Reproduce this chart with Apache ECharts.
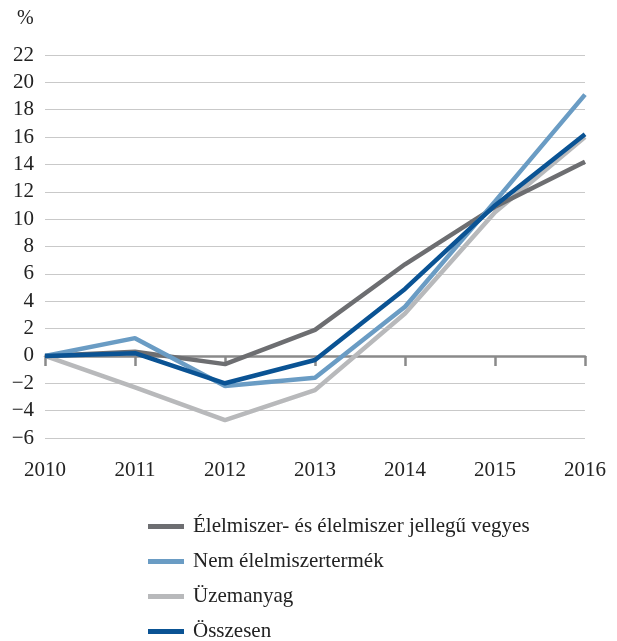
<!DOCTYPE html>
<html><head><meta charset="utf-8">
<script src="https://cdn.jsdelivr.net/npm/echarts@6/dist/echarts.min.js"></script>
<style>html,body{margin:0;padding:0;background:#fff}#c{width:617px;height:641px}</style>
</head><body><div id="c"></div>
<script>
const categories = ['2010','2011','2012','2013','2014','2015','2016'];
const seriesNames = ['Élelmiszer- és élelmiszer jellegű vegyes','Nem élelmiszertermék','Üzemanyag','Összesen'];
const elelmiszer = [0, 0.3, -0.6, 1.9, 6.7, 10.9, 14.2];
const nemElelmiszer = [0, 1.3, -2.2, -1.6, 3.6, 11.3, 19.1];
const uzemanyag = [0, -2.3, -4.7, -2.5, 3.1, 10.5, 16.0];
const osszesen = [0, 0.2, -2.0, -0.3, 4.9, 11.0, 16.2];
const colors = ['#6d6e71', '#6a9cc4', '#b8b9bb', '#0a5394'];
const font = 'Liberation Serif';
const chart = echarts.init(document.getElementById('c'));
const data = [elelmiszer, nemElelmiszer, uzemanyag, osszesen];
chart.setOption({
  animation: false,
  textStyle: {fontFamily: font},
  grid: {left: 45, right: 32, top: 55, bottom: 203},
  graphic: [{type: 'text', left: 17, top: 9, style: {text: '%', fontFamily: font, fontSize: 20, fill: '#222'}}],
  legend: {
    orient: 'vertical', left: 143, top: 511, height: 160, itemGap: 14,
    itemWidth: 36, itemHeight: 5, icon: 'rect',
    textStyle: {fontFamily: font, fontSize: 21, color: '#222', padding: [0,0,0,4]},
    data: seriesNames
  },
  xAxis: {
    type: 'category', data: categories, boundaryGap: false,
    axisLine: {onZero: true, lineStyle: {color: '#8a8a8a', width: 2.5}},
    axisTick: {show: true, length: 10, inside: false, lineStyle: {color: '#8a8a8a', width: 2.5}},
    axisLabel: {margin: 22, fontFamily: font, fontSize: 21, color: '#222'}
  },
  yAxis: {
    type: 'value', min: -6, max: 22, interval: 2,
    axisLine: {show: false}, axisTick: {show: false},
    axisLabel: {fontFamily: font, fontSize: 21, color: '#222', margin: 11,
      formatter: v => v < 0 ? '\u2212' + Math.abs(v) : String(v)},
    splitLine: {lineStyle: {color: '#c9c9c9', width: 1}}
  },
  series: seriesNames.map((n, i) => ({
    name: n, type: 'line', data: data[i], symbol: 'none',
    lineStyle: {color: colors[i], width: 4.5}, itemStyle: {color: colors[i]},
    z: [2,3,1,4][i]
  }))
});
</script></body></html>
